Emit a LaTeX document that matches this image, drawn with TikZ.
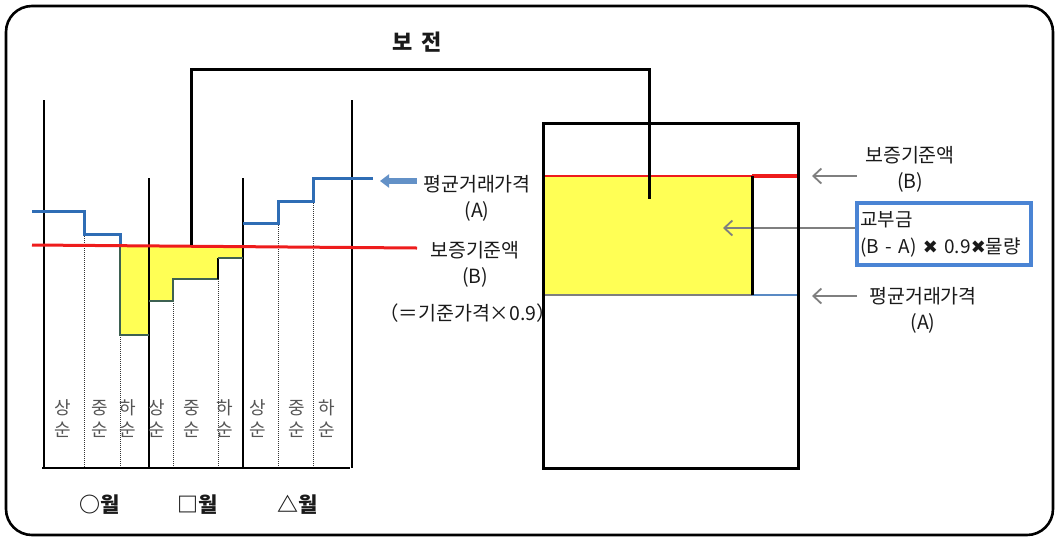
\documentclass[tikz,border=0pt]{standalone}
\usepackage{fontspec}
\newfontfamily\kr{Noto Sans CJK KR}
\newfontfamily\dv{DejaVu Sans}
\usetikzlibrary{arrows.meta,calc}
\definecolor{cblue}{HTML}{2F6DB5}
\definecolor{cred}{HTML}{EE1C1C}
\definecolor{cyel}{HTML}{FFFF55}
\definecolor{cgreen}{HTML}{3E6152}
\definecolor{cgray}{HTML}{7F7F7F}
\definecolor{cbox}{HTML}{4A84D4}
\definecolor{ctxt}{HTML}{1A1A1A}
\definecolor{csub}{HTML}{555555}
\begin{document}
\begin{tikzpicture}[x=1pt,y=-1pt,
  lbl/.style={font=\kr\fontsize{19.5}{26}\selectfont, text=ctxt, inner sep=0pt, align=center},
  sublbl/.style={font=\kr\fontsize{18}{22}\selectfont, text=csub, inner sep=0pt, align=center},
  monlbl/.style={font=\kr\bfseries\fontsize{21}{22}\selectfont, text=ctxt, inner sep=0pt},
  garrow/.style={draw=cgray, line width=1.8pt, -{Straight Barb[length=8pt,width=15pt,line width=1.8pt]}},
  barrow/.style={draw=cblue!75!white, line width=5.5pt, -{Triangle[length=9pt,width=13pt]}},
  solid line/.style={draw=black, line width=1.6pt},
  dotline/.style={draw=black!80, line width=1pt, densely dotted},
  bluestep/.style={draw=cblue, line width=3pt},
  greenstep/.style={draw=cgreen, line width=1.6pt},
  thick black/.style={draw=black, line width=3pt}]
\useasboundingbox (0,0) rectangle (1059,539);
\draw[line width=2.6pt, rounded corners=26pt] (6,6) rectangle (1053,535);

% ---- left chart ----
\fill[cyel] (120,246) -- (243,247) -- (243,258) -- (218,258) -- (218,279) -- (173,279)
  -- (173,301) -- (149,301) -- (149,335) -- (120,335) -- cycle;
\draw[dotline] (84,234) -- (84,468);
\draw[dotline] (120,335) -- (120,468);
\draw[dotline] (173,301) -- (173,468);
\draw[dotline] (218,279) -- (218,468);
\draw[dotline] (278,223) -- (278,468);
\draw[dotline] (313,201) -- (313,468);
\draw[solid line] (44,100) -- (44,468);
\draw[solid line] (149,178) -- (149,468);
\draw[solid line] (243,178) -- (243,468);
\draw[solid line] (352,100) -- (352,468);
\draw[line width=2pt] (42,468) -- (350,468);
\draw[greenstep] (120,246) -- (120,335) -- (149,335);
\draw[greenstep] (149,301) -- (173,301) -- (173,279) -- (218,279);
\draw[line width=2.4pt] (218,279) -- (218,258);
\draw[greenstep] (218,258) -- (243,258);
\draw[bluestep] (32,211) -- (84,211) -- (84,234) -- (120,234) -- (120,246);
\draw[bluestep] (243,223) -- (278,223) -- (278,201) -- (313,201) -- (313,178) -- (373,178);
\coordinate (redend) at (417,248);
\draw[draw=cred, line width=3pt] (32,245) -- (redend);

% ---- right box ----
\fill[cyel] (543,176) rectangle (752,295);
\draw[draw=cred, line width=1.6pt] (543,176) -- (752,176);
\draw[draw=cred, line width=3.2pt] (752,176) -- (798,176);
\draw[draw=cgray, line width=1.4pt] (543,295) -- (752,295);
\draw[draw=cblue!80!white, line width=2.6pt] (752,295) -- (798,295);

% ---- labels ----
\node[lbl] (lA) at (477,198) {평균거래가격\\(A)};
\node[lbl] (lB) at (475,264) {보증기준액\\(B)};
\node[lbl, anchor=west] (lBeq) at (379,313) {（＝기준가격×0.9）};
\node[lbl] (rB) at (910,169) {보증기준액\\(B)};
\node[lbl] (rA) at (923,310) {평균거래가격\\(A)};
\node[draw=cbox, line width=4pt, minimum width=174pt, minimum height=62pt,
  inner sep=0pt, text width=166pt, align=left,
  font=\kr\fontsize{19}{27}\selectfont, text=ctxt] (kbox) at (943.5,234)
  {교부금\\(B - A) {\dv\fontsize{18}{12}\selectfont ✖} 0.9{\dv\fontsize{18}{12}\selectfont ✖}물량};

\coordinate (lAtip) at (380,181);
\draw[barrow] ([xshift=-6pt,yshift=17pt]lA.west) -- (lAtip);
\coordinate (rBtip) at (812,176);
\draw[garrow] ([xshift=-8pt,yshift=-7pt]rB.west) -- (rBtip);
\coordinate (rAtip) at (812,296);
\coordinate (rAstart) at (857,296);
\draw[garrow] (rAstart) -- (rAtip);
\coordinate (ktip) at (723,228);
\draw[garrow] ([yshift=6pt]kbox.west) -- (ktip);

\draw[thick black] (752,176) -- (752,295);
\draw[line width=3pt] (543,123) rectangle (798,468);

% ---- 보전 connector ----
\node[monlbl, font=\kr\bfseries\fontsize{22}{22}\selectfont] (bj) at (417,42) {보\hspace{9pt}전};
\coordinate (c1) at (191,245);
\coordinate (c2) at (649,199);
\draw[thick black] (c1) |- (649,69) -- (c2);

% ---- period labels ----
\foreach \x/\t [count=\i] in {63/상, 100/중, 128/하, 157/상, 192/중, 225/하, 258/상, 297/중, 327/하}
  \node[sublbl] (p\i) at (\x,419) {\t\\순};
\node[monlbl] (m1) at (100,505) {○월};
\node[monlbl] (m2) at (198,505) {□월};
\node[monlbl] (m3) at (298,505) {△월};
\end{tikzpicture}
\end{document}
